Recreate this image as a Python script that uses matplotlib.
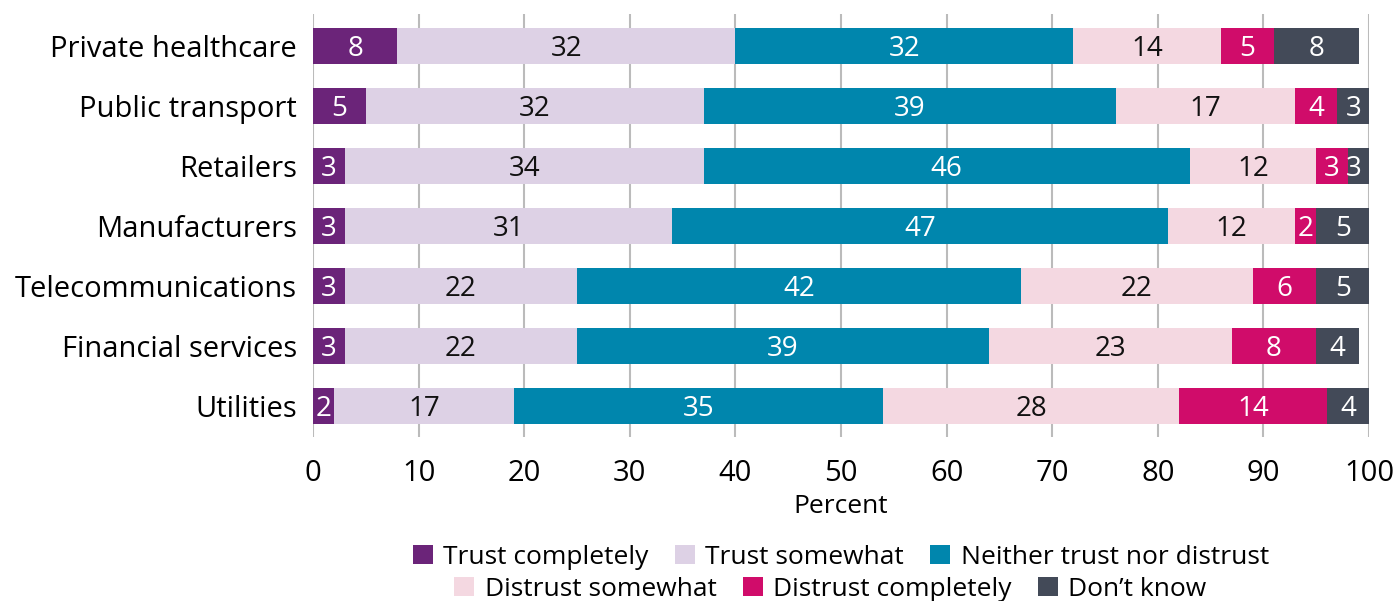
import matplotlib
matplotlib.use("Agg")
import matplotlib.pyplot as plt
import numpy as np
from matplotlib.patches import Patch

# ─── Data ─────────────────────────────────────────────────────────────────────
SECTORS = ["Private healthcare", "Public transport", "Retailers", "Manufacturers",
           "Telecommunications", "Financial services", "Utilities"]

TRUST_COMPLETELY = [8, 5, 3, 3, 3, 3, 2]
TRUST_SOMEWHAT = [32, 32, 34, 31, 22, 22, 17]
NEITHER = [32, 39, 46, 47, 42, 39, 35]
DISTRUST_SOMEWHAT = [14, 17, 12, 12, 22, 23, 28]
DISTRUST_COMPLETELY = [5, 4, 3, 2, 6, 8, 14]
DONT_KNOW = [8, 3, 3, 5, 5, 4, 4]

SERIES_NAMES = ["Trust completely", "Trust somewhat", "Neither trust nor distrust",
                "Distrust somewhat", "Distrust completely", "Don\u2019t know"]
SERIES = [TRUST_COMPLETELY, TRUST_SOMEWHAT, NEITHER,
          DISTRUST_SOMEWHAT, DISTRUST_COMPLETELY, DONT_KNOW]

COLORS = ["#6B2479", "#DDD1E5", "#0086AD", "#F4D8E1", "#D00C6A", "#434A58"]
TEXT_COLORS = ["white", "#111111", "white", "#111111", "white", "white"]

# ─── Plot ─────────────────────────────────────────────────────────────────────
plt.rcParams["font.family"] = ["Open Sans", "DejaVu Sans"]

fig = plt.figure(figsize=(13.98, 6.01), dpi=100)
ax = fig.add_axes([0.2239, 0.2729, 0.7554, 0.7038])

y = np.arange(len(SECTORS))
left = np.zeros(len(SECTORS))
for name, vals, color, tcolor in zip(SERIES_NAMES, SERIES, COLORS, TEXT_COLORS):
    vals = np.array(vals, dtype=float)
    ax.barh(y, vals, left=left, height=0.6, color=color, label=name, zorder=3)
    for yi, (l, v) in enumerate(zip(left, vals)):
        # keep labels of bars running past 100 inside the axes
        xc = 100 - v / 2 if l + v > 100 else l + v / 2
        ax.text(xc, yi, f"{v:.0f}", ha="center", va="center_baseline",
                color=tcolor, fontsize=20, zorder=4)
    left += vals

ax.set_xlim(0, 100)
ax.set_ylim(6.52, -0.53)
ax.set_xticks(range(0, 101, 10))
ax.set_yticks(y)
ax.set_yticklabels(SECTORS)
ax.tick_params(axis="both", length=0, labelsize=21)
ax.tick_params(axis="y", pad=11.5)
ax.tick_params(axis="x", pad=16)
ax.xaxis.grid(True, color="#BBBBBB", linewidth=1.5, zorder=0)
ax.set_axisbelow(True)
for s in ax.spines.values():
    s.set_visible(False)
ax.set_xlabel("Percent", fontsize=19, labelpad=4)

# legend in two centred rows
handles = [Patch(facecolor=c, edgecolor="none") for c in COLORS]
leg_kw = dict(ncol=3, frameon=False, fontsize=19, handlelength=0.75,
              handleheight=0.75, handletextpad=0.4, columnspacing=1.0,
              borderpad=0, borderaxespad=0)
fig.legend(handles[:3], SERIES_NAMES[:3], loc="center",
           bbox_to_anchor=(0.6015, 1 - 557 / 601), **leg_kw)
fig.legend(handles[3:], SERIES_NAMES[3:], loc="center",
           bbox_to_anchor=(0.594, 1 - 589 / 601), **leg_kw)

fig.savefig("out.png", dpi=100)
